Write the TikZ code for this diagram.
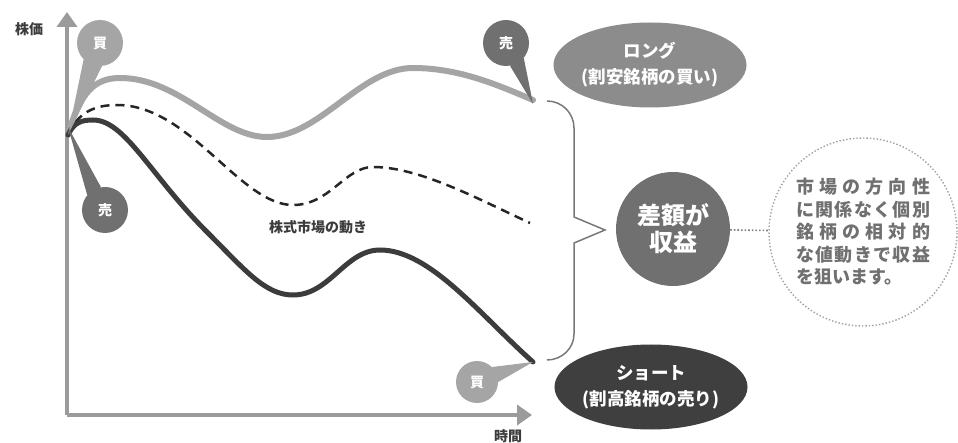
\documentclass[tikz,border=0pt]{standalone}
\usepackage{fontspec}
\setmainfont{Noto Sans CJK JP}
\usepackage{tikz}
\usetikzlibrary{positioning,shapes.geometric,arrows.meta}
\definecolor{axisgray}{RGB}{155,155,155}
\definecolor{buygray}{RGB}{165,165,165}
\definecolor{sellgray}{RGB}{112,112,112}
\definecolor{longgray}{RGB}{140,140,140}
\definecolor{darkline}{RGB}{60,60,60}
\definecolor{shortgray}{RGB}{63,63,63}
\definecolor{gaingray}{RGB}{112,112,112}
\definecolor{bracegray}{RGB}{120,120,120}
\definecolor{dotgray}{RGB}{160,160,160}
\definecolor{textgray}{RGB}{60,60,60}

\begin{document}
\begin{tikzpicture}[x=1pt, y=-1pt,
  axis/.style={draw=axisgray, line width=4pt, -{Triangle[width=20pt,length=15pt]}},
  bubble/.style={circle, minimum size=46pt, inner sep=0pt, text=white,
                 font=\fontsize{14}{14}\selectfont\bfseries},
  posbox/.style={ellipse, minimum width=184pt, minimum height=85pt, inner sep=0pt,
              text=white, align=center, font=\fontsize{17.5}{26}\selectfont\bfseries},
  lbl/.style={text=textgray, font=\fontsize{14}{14}\selectfont\bfseries}
]
\useasboundingbox (0,0) rectangle (958,443);
% axes
\coordinate (ax0) at (67,415);
\coordinate (ytip) at (67,12);
\coordinate (xtip) at (532,415);
\draw[axis] (ax0) -- (ytip);
\draw[axis] (ax0) -- (xtip);
\node[lbl] (price) at (29,29) {株価};
\node[lbl] (time) at (508,436) {時間};
% price curves
\coordinate (o) at (68,135);
\coordinate (longend) at (533,100);
\coordinate (mktend) at (530,223);
\coordinate (shortend) at (533,362);
\draw[buygray, line width=6pt, line cap=round] (o) .. controls (80,92) and (95,78) .. (120,78)
  .. controls (180,78) and (220,137) .. (267,137)
  .. controls (320,137) and (360,68) .. (413,68)
  .. controls (460,68) and (500,86) .. (longend);
\draw[black!85, line width=2.5pt, dash pattern=on 9pt off 6pt] (o) .. controls (78,112) and (95,105) .. (117,105)
  .. controls (190,105) and (240,205) .. (293,205)
  .. controls (330,205) and (345,167) .. (373,167)
  .. controls (420,167) and (480,200) .. (mktend);
\draw[darkline, line width=5pt, line cap=round] (o) .. controls (74,122) and (82,120) .. (93,120)
  .. controls (125,120) and (150,175) .. (207,232)
  .. controls (245,270) and (265,295) .. (293,295)
  .. controls (330,295) and (345,250) .. (380,250)
  .. controls (430,250) and (480,315) .. (shortend);
\node[lbl] (market) at (318,227) {株式市場の動き};
% speech bubbles
\node[bubble, fill=buygray] (buy1) at (100,43) {買};
\fill[buygray] (buy1.225) -- (o) -- (buy1.275) -- cycle;
\node[bubble, fill=sellgray] (sell1) at (105,210) {売};
\fill[sellgray] (sell1.100) -- ([yshift=8pt]o) -- (sell1.140) -- cycle;
\node[bubble, fill=sellgray] (sell2) at (506,43) {売};
\fill[sellgray] (sell2.280) -- ([yshift=-4pt]longend) -- (sell2.320) -- cycle;
\node[bubble, fill=buygray, minimum size=42pt] (buy2) at (477,382) {買};
\fill[buygray] (buy2.0) -- (shortend) -- (buy2.45) -- cycle;
% positions
\node[posbox, fill=longgray] (long) at (650,65) {ロング\\(割安銘柄の買い)};
\node[posbox, fill=shortgray] (short) at (651,387) {ショート\\(割高銘柄の売り)};
% brace
\coordinate (bracetop) at (547,101);
\coordinate (bracebot) at (547,360);
\coordinate (bracetip) at (605,230);
\draw[bracegray, line width=1.5pt, line join=miter] (bracetop) to[out=0, in=90] (574,128)
  -- (574,217) -- (bracetip) -- (574,243) -- (574,334) to[out=270, in=0] (bracebot);
\node[circle, fill=gaingray, minimum size=114pt, inner sep=0pt, text=white, align=center,
      font=\fontsize{24}{27}\selectfont\bfseries] (gain) at (673,229) {差額が\\収益};
\node[circle, draw=dotgray, dotted, line width=1.4pt, minimum size=188pt, inner sep=0pt,
      text=sellgray, align=left, font=\fontsize{18}{22.5}\selectfont\bfseries] (note) at (863,232)
  {\makebox[134pt][s]{市\hfill 場\hfill の\hfill 方\hfill 向\hfill 性}\\
   \makebox[134pt][s]{に\hfill 関\hfill 係\hfill な\hfill く\hfill 個\hfill 別}\\
   \makebox[134pt][s]{銘\hfill 柄\hfill の\hfill 相\hfill 対\hfill 的}\\
   \makebox[134pt][s]{な\hfill 値\hfill 動\hfill き\hfill で\hfill 収\hfill 益}\\
   \makebox[134pt][l]{を狙います。}};
\draw[dotgray!80!black, dotted, line width=1.6pt] (gain) -- (note);
\end{tikzpicture}
\end{document}
